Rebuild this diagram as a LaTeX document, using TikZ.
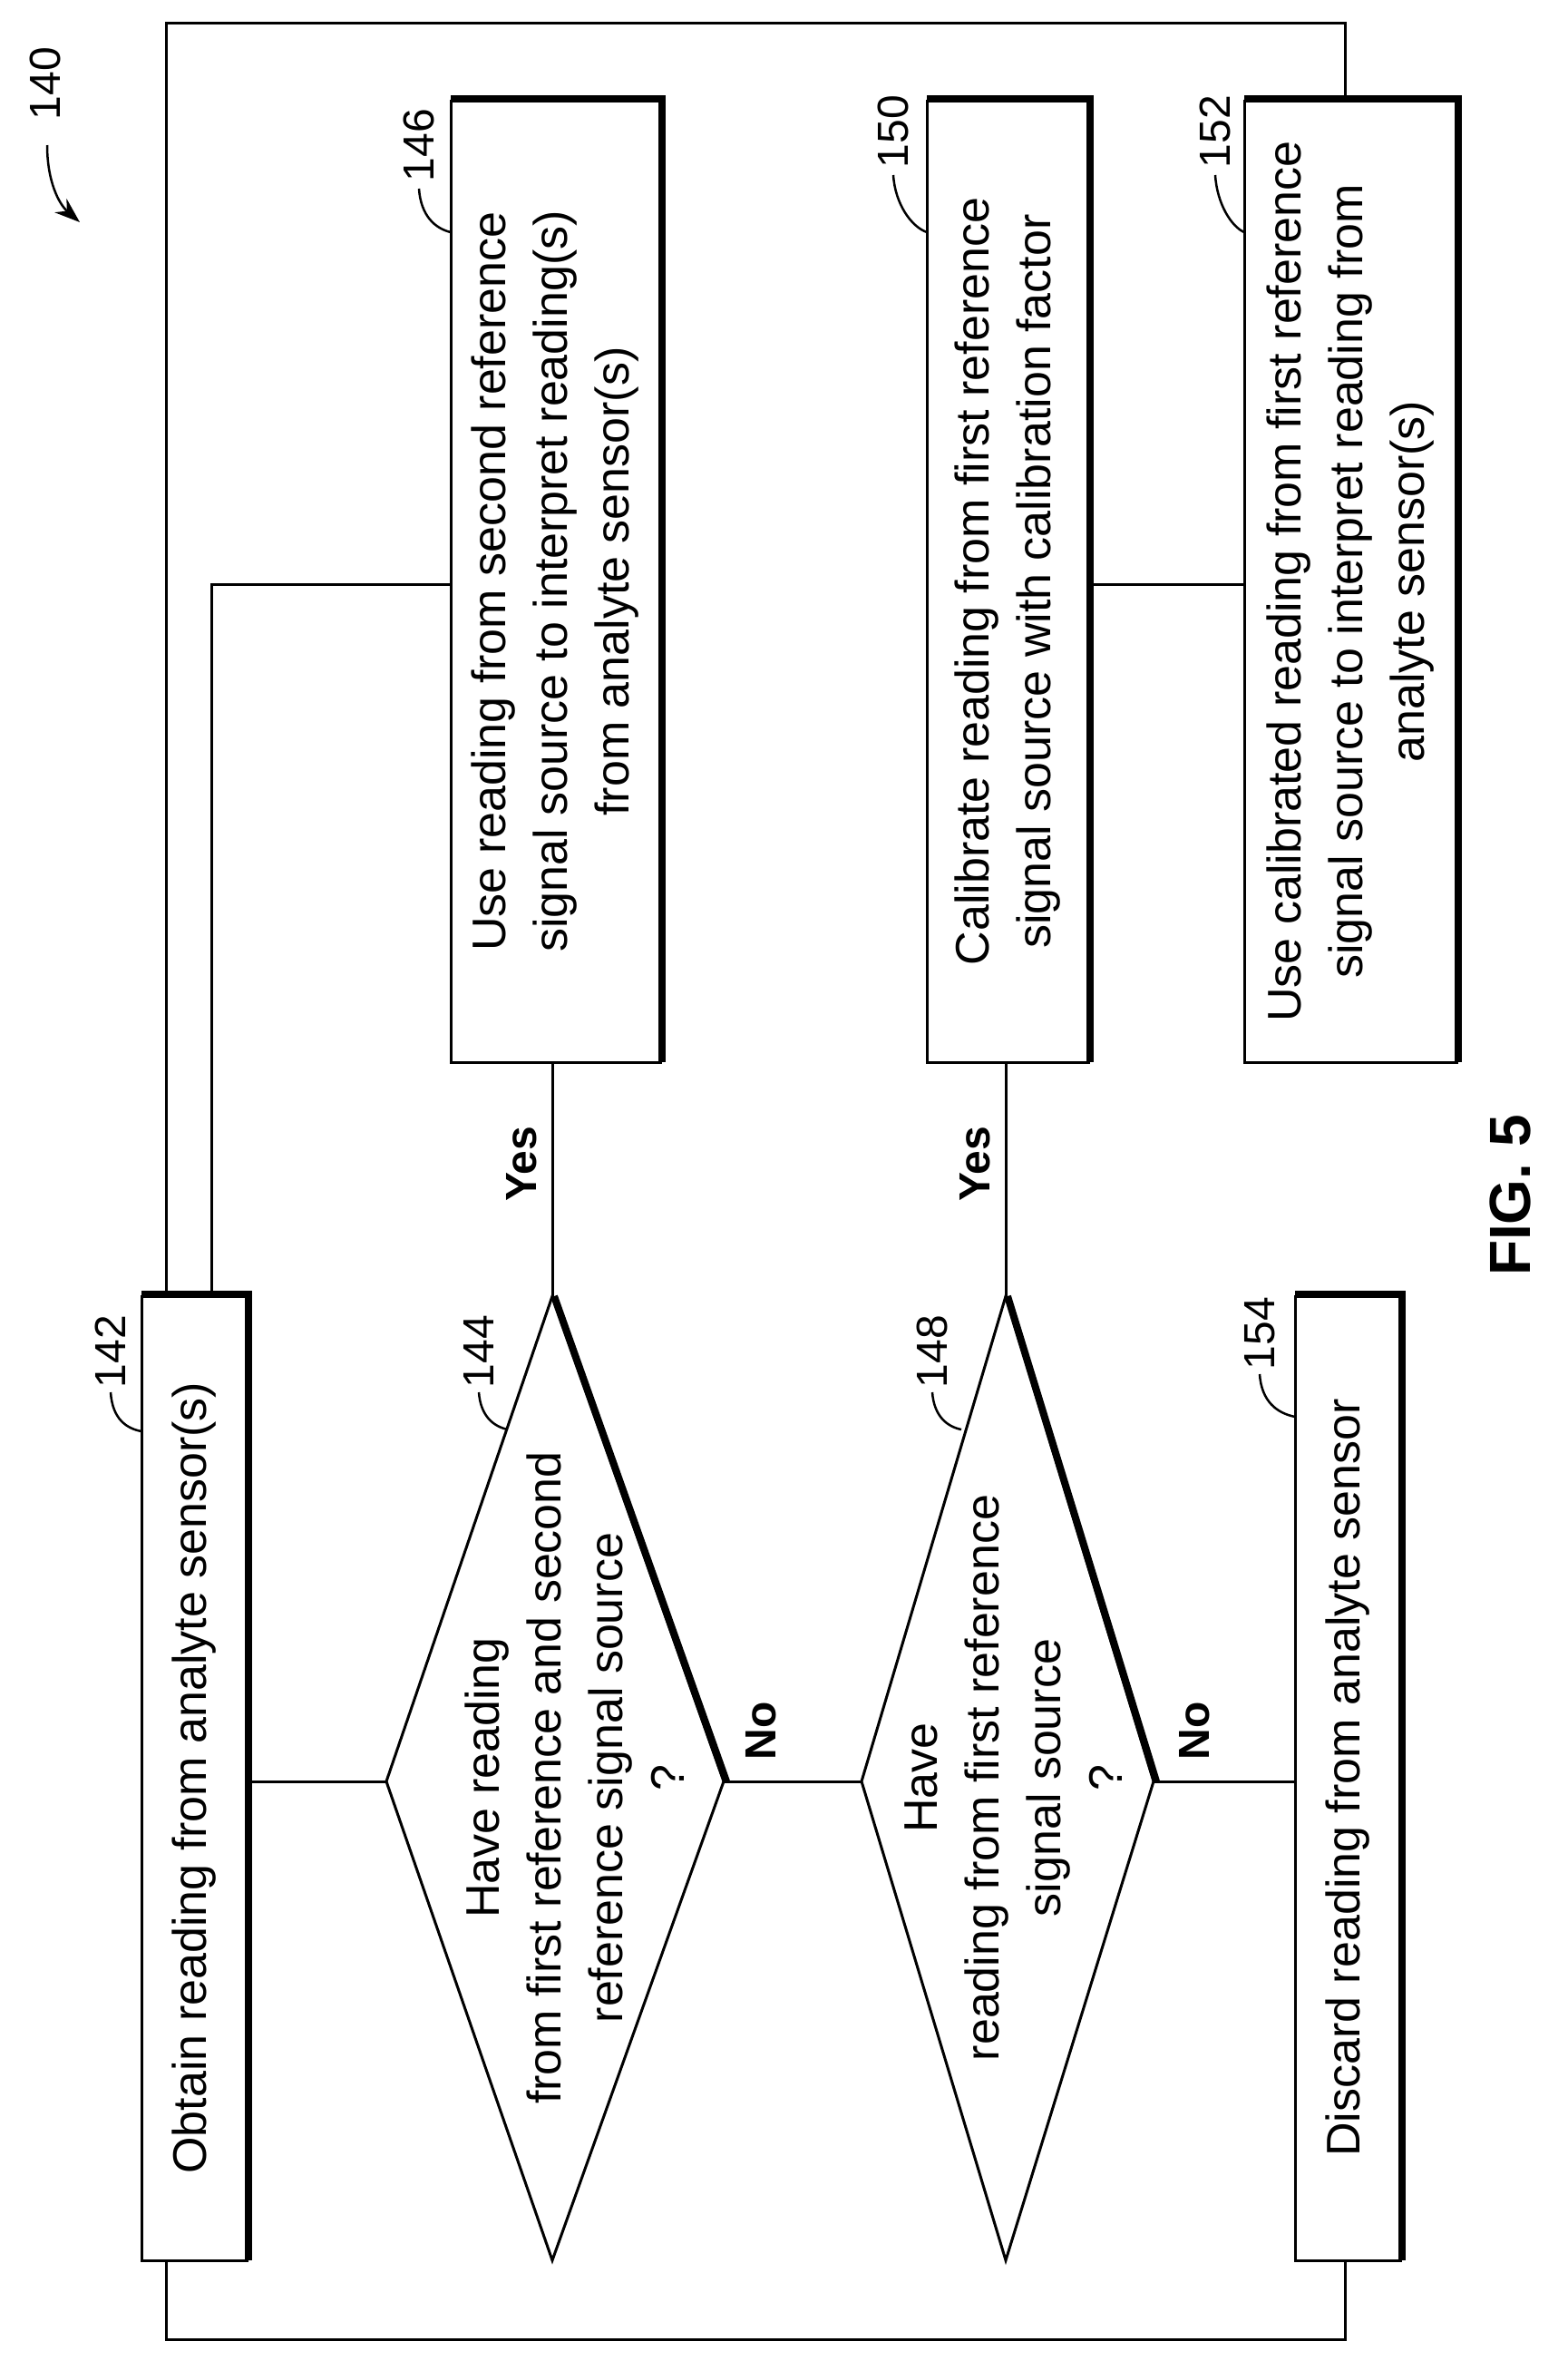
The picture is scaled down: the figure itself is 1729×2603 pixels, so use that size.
\documentclass[tikz,border=0pt]{standalone}
\usepackage{fontspec}
\setmainfont{Liberation Sans}
\usetikzlibrary{arrows.meta}
\begin{document}
\begin{tikzpicture}[x=1pt,y=-1pt,line width=3pt,
 txt/.style={rotate=90,align=center,font=\fontsize{52}{68}\selectfont},
 lbl/.style={rotate=90,font=\fontsize{48}{58}\selectfont},
 yn/.style={rotate=90,font=\fontsize{48}{58}\selectfont\bfseries},
 shadow/.style={line width=8pt},
 lead/.style={line width=2.5pt}]
\path[use as bounding box] (0,0) rectangle (1729,2603);
% boxes
\draw (156,1429) rectangle (272,2492); \draw[shadow] (156,1427) -- (274,1427) -- (274,2492);
\draw (497,111) rectangle (728,1171); \draw[shadow] (497,109) -- (730,109) -- (730,1171);
\draw (1022,111) rectangle (1200,1171); \draw[shadow] (1022,109) -- (1202,109) -- (1202,1171);
\draw (1372,111) rectangle (1606,1171); \draw[shadow] (1372,109) -- (1608,109) -- (1608,1171);
\draw (1428,1429) rectangle (1544,2492); \draw[shadow] (1428,1427) -- (1546,1427) -- (1546,2492);
\node[txt] (b142) at (214,1960) {Obtain reading from analyte sensor(s)};
\node[txt] (b146) at (612,641) {Use reading from second reference\\signal source to interpret reading(s)\\from analyte sensor(s)};
\node[txt] (b150) at (1111,641) {Calibrate reading from first reference\\signal source with calibration factor};
\node[txt] (b152) at (1489,641) {Use calibrated reading from first reference\\signal source to interpret reading from\\analyte sensor(s)};
\node[txt] (b154) at (1486,1960) {Discard reading from analyte sensor};
% diamonds
\coordinate (d1t) at (609,1429); \coordinate (d1r) at (798,1964);
\coordinate (d1b) at (609,2492); \coordinate (d1l) at (426,1964);
\coordinate (d2t) at (1109,1429); \coordinate (d2r) at (1272,1964);
\coordinate (d2b) at (1109,2492); \coordinate (d2l) at (950,1964);
\draw (d1t) -- (d1r) -- (d1b) -- (d1l) -- cycle; \draw[shadow] ([xshift=2pt]d1t) -- ([xshift=3pt]d1r);
\draw (d2t) -- (d2r) -- (d2b) -- (d2l) -- cycle; \draw[shadow] ([xshift=2pt]d2t) -- ([xshift=3pt]d2r);
\node[txt] (t144) at (634,1960) {Have reading\\from first reference and second\\reference signal source\\?};
\node[txt] (t148) at (1118,1960) {Have\\reading from first reference\\signal source\\?};
% connectors
\coordinate (c1) at (272,1964);
\draw (c1) -- (d1l);
\draw (d1r) -- (d2l);
\draw (d2r) -- (1428,1964);
\draw (d1t) -- (609,1171);
\draw (d2t) -- (1109,1171);
\draw (1200,644) -- (1372,644);
\draw (233,1429) -- (233,644) -- (497,644);
\draw (183,1429) -- (183,25) -- (1483,25) -- (1483,111);
\draw (183,2492) -- (183,2579) -- (1483,2579) -- (1483,2492);
\node[yn] (y1) at (575,1283) {Yes};
\node[yn] (y2) at (1075,1283) {Yes};
\node[yn] (n1) at (839,1908) {No};
\node[yn] (n2) at (1317,1908) {No};
% reference labels
\node[lbl] (l140) at (50,92) {140};
\draw[lead,-{Stealth[length=28pt,width=20pt]}] (52,160) .. controls (52,200) and (65,225) .. (88,245);
\node[lbl] (l142) at (122,1490) {142};
\draw[lead] (122,1535) .. controls (124,1565) and (140,1575) .. (156,1578);
\node[lbl] (l144) at (528,1490) {144};
\draw[lead] (528,1535) .. controls (530,1562) and (545,1573) .. (560,1576);
\node[lbl] (l148) at (1028,1490) {148};
\draw[lead] (1028,1535) .. controls (1030,1562) and (1045,1573) .. (1060,1576);
\node[lbl] (l154) at (1389,1470) {154};
\draw[lead] (1389,1515) .. controls (1391,1545) and (1408,1558) .. (1428,1562);
\node[lbl] (l146) at (462,160) {146};
\draw[lead] (462,208) .. controls (464,238) and (480,252) .. (497,256);
\node[lbl] (l150) at (985,145) {150};
\draw[lead] (985,193) .. controls (987,225) and (1005,250) .. (1022,256);
\node[lbl] (l152) at (1340,145) {152};
\draw[lead] (1340,193) .. controls (1342,225) and (1358,250) .. (1372,256);
\node[rotate=90,font=\fontsize{64}{70}\selectfont\bfseries] (fig) at (1665,1318) {FIG. 5};
\end{tikzpicture}
\end{document}
